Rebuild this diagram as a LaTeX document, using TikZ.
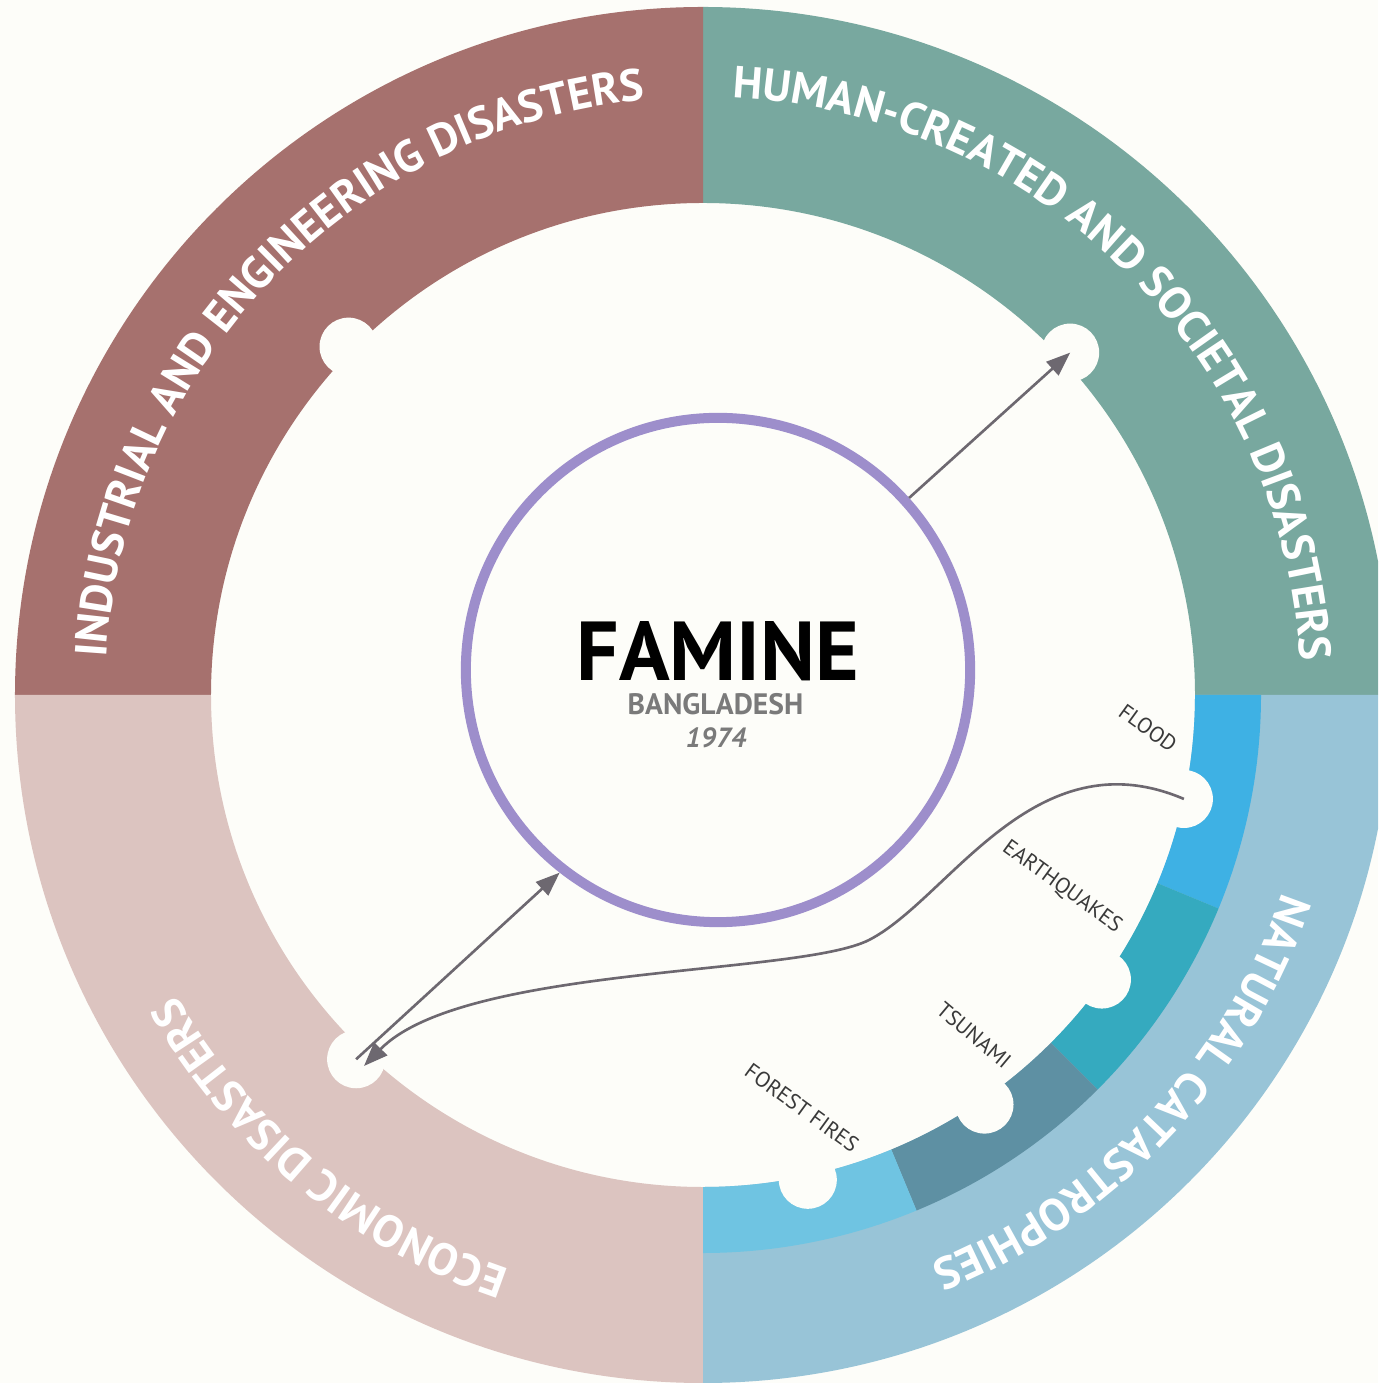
\documentclass[tikz,border=0pt]{standalone}
\usepackage{fontspec}
\setmainfont{PT Sans}
\usetikzlibrary{arrows.meta,decorations.text}
\definecolor{PaperWhite}{HTML}{FDFDF9}
\definecolor{IndBrown}{HTML}{A6716E}
\definecolor{HumTeal}{HTML}{78A89F}
\definecolor{EcoPink}{HTML}{DCC4C0}
\definecolor{NatBlue}{HTML}{98C4D7}
\definecolor{FloodBlue}{HTML}{3EB1E4}
\definecolor{QuakeTeal}{HTML}{35AABF}
\definecolor{TsunamiSlate}{HTML}{5E90A3}
\definecolor{FireBlue}{HTML}{6FC4E2}
\definecolor{FamPurple}{HTML}{9D8ECB}
\definecolor{LinkGrey}{HTML}{6D6870}
\definecolor{SubGrey}{HTML}{7A7A7A}
\definecolor{HazardText}{HTML}{3A3A3A}
\newcommand\ringfont{\bfseries\fontsize{12.8pt}{13pt}\selectfont}
\newcommand\hazardfont{\fontsize{6.2pt}{7pt}\selectfont}

\begin{document}
\begin{tikzpicture}[x=0.01cm, y=0.01cm,
  link/.style={draw=LinkGrey, line width=0.75pt, -{Triangle[length=0.24cm, width=0.18cm]}},
  notch/.style={circle, fill=PaperWhite, inner sep=0pt, minimum size=0.58cm},
  hazard/.style={font=\hazardfont, text=HazardText, rotate=-36},
  ringlabel/.style={decorate, decoration={text along path, text align=center, text color=white}}]
  \fill[PaperWhite] (-703,-688) rectangle (675,695);
  \clip (-703,-688) rectangle (675,695);
  % one quarter of the ring per family of disasters
  \foreach \a/\c in {0/HumTeal, 90/IndBrown, 180/EcoPink, 270/NatBlue}
    \fill[\c] (\a:688) arc[start angle=\a, end angle=\a+90, radius=688]
      -- (\a+90:492) arc[start angle=\a+90, end angle=\a, radius=492] -- cycle;
  % inner band of the natural quarter
  \foreach \a/\b/\c in {0/-22.5/FloodBlue, -22.5/-45/QuakeTeal, -45/-67.5/TsunamiSlate, -67.5/-90/FireBlue}
    \fill[\c] (\a:558) arc[start angle=\a, end angle=\b, radius=558]
      -- (\b:492) arc[start angle=\b, end angle=\a, radius=492] -- cycle;

  \path[ringlabel, decoration={text={|\ringfont|INDUSTRIAL AND ENGINEERING DISASTERS}}]
    (180:598) arc[start angle=180, end angle=92, radius=598];
  \path[ringlabel, decoration={text={|\ringfont|HUMAN-CREATED AND SOCIETAL DISASTERS}}]
    (89.5:598) arc[start angle=89.5, end angle=1, radius=598];
  \path[ringlabel, decoration={text={|\ringfont|ECONOMIC DISASTERS}}]
    (-104:606) arc[start angle=-104, end angle=-155, radius=606];
  \path[ringlabel, decoration={text={|\ringfont|NATURAL CATASTROPHIES}}]
    (-15:612) arc[start angle=-15, end angle=-72, radius=612];

  % notches where the links meet the ring
  \node[notch] (ind) at (135.5:497) {};
  \node[notch] (hum) at (43:502) {};
  \node[notch] (eco) at (-133.6:503) {};
  \node[notch] (flood) at (-12.2:492) {};
  \node[notch] (quake) at (-35.5:490) {};
  \node[notch] (tsunami) at (-55.5:497) {};
  \node[notch] (fire) at (-77.8:496) {};

  \node[hazard] (floodlab) at (445,-33) {FLOOD};
  \node[hazard] (quakelab) at (359,-192) {EARTHQUAKES};
  \node[hazard, rotate=-4] (tsunamilab) at (271,-340) {TSUNAMI};
  \node[hazard] (firelab) at (99,-413) {FOREST FIRES};

  \node[circle, draw=FamPurple, line width=0.1cm, minimum size=5.04cm, inner sep=0pt] (famine) at (15,25) {};
  \node[font=\bfseries\fontsize{23.8pt}{24pt}\selectfont, text=black] (title) at (15,43.5) {FAMINE};
  \node[font=\bfseries\fontsize{8.4pt}{9pt}\selectfont, text=SubGrey] (place) at (12.5,-9) {BANGLADESH};
  \node[font=\bfseries\itshape\fontsize{7.9pt}{8pt}\selectfont, text=SubGrey] (year) at (13,-42.5) {1974};

  \coordinate (dip) at (166,-245);
  \coordinate (ecotip) at (-339,-371);
  \draw[link] (famine.42) -- (hum.center);
  \draw[link] (eco.center) -- (famine.-128);
  \draw[link] (flood.center) .. controls (331,-40) and (246,-204) .. (dip)
    .. controls (95,-281) and (-240,-270) .. (ecotip);
\end{tikzpicture}
\end{document}
